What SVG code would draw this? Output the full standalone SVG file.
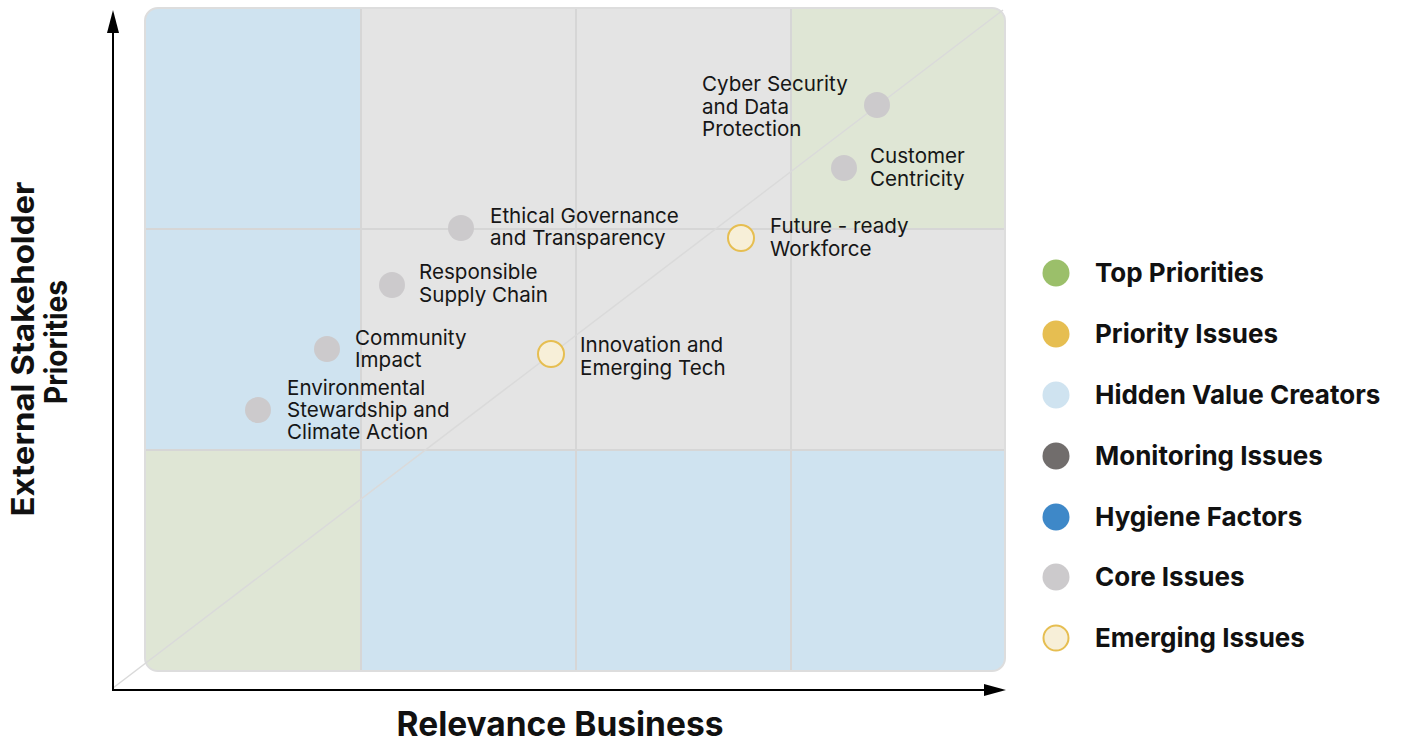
<svg xmlns="http://www.w3.org/2000/svg" width="1402" height="749" viewBox="0 0 1402 749">
<style>
.lbl{font-family:Inter,"Liberation Sans",sans-serif;font-size:20.6px;fill:#161616}
.leg{font-family:Inter,"Liberation Sans",sans-serif;font-weight:700;font-size:26px;fill:#111}
.ttl{font-family:Inter,"Liberation Sans",sans-serif;font-weight:700;font-size:33.5px;fill:#111}
.ytl{font-family:Inter,"Liberation Sans",sans-serif;font-weight:700;font-size:31px;fill:#111}
.core{fill:#CCCACC}
.emg{fill:#F7EFD8;stroke:#E6BE51;stroke-width:2}
.grid{stroke:#D6D6D6;stroke-width:2;fill:none}
.axis{stroke:#000;stroke-width:2;fill:none}
</style>
<defs>
<clipPath id="chartClip"><rect x="145" y="8" width="860" height="663" rx="13"/></clipPath>
</defs>
<g id="background">
<g clip-path="url(#chartClip)">
<rect x="145" y="8" width="860" height="663" fill="#E4E4E4"/>
<rect x="145" y="8" width="216" height="442" fill="#CFE3F0"/>
<rect x="791" y="8" width="214" height="221" fill="#DFE6D5"/>
<rect x="145" y="450" width="216" height="221" fill="#DFE6D5"/>
<rect x="361" y="450" width="644" height="221" fill="#CFE3F0"/>
<path class="grid" d="M361 8V671M576 8V671M791 8V671M145 229H1005M145 450H1005"/>
</g>
<rect x="145" y="8" width="860" height="663" rx="13" fill="none" stroke="#DDDDDD" stroke-width="2"/>
<line x1="113" y1="688" x2="1003" y2="10" stroke="#DADADA" stroke-width="1.5"/>
</g>
<g id="connectors">
<line class="axis" x1="113" y1="690" x2="113" y2="30"/>
<polygon points="113,10 107,33 119,33" fill="#000"/>
<line class="axis" x1="112" y1="690" x2="988" y2="690"/>
<polygon points="1006,690 984,684 984,696" fill="#000"/>
</g>
<g id="node-cyber"><circle class="core" cx="877" cy="105" r="13"/><text class="lbl" x="702" y="91">Cyber Security<tspan x="702" y="113.5">and Data</tspan><tspan x="702" y="136">Protection</tspan></text></g>
<g id="node-customer"><circle class="core" cx="844" cy="168" r="13"/><text class="lbl" x="870" y="163">Customer<tspan x="870" y="186">Centricity</tspan></text></g>
<g id="node-future"><circle class="emg" cx="741" cy="238" r="13"/><text class="lbl" x="770" y="233">Future - ready<tspan x="770" y="256">Workforce</tspan></text></g>
<g id="node-ethical"><circle class="core" cx="461" cy="228" r="13"/><text class="lbl" x="490" y="222.5">Ethical Governance<tspan x="490" y="245">and Transparency</tspan></text></g>
<g id="node-supply"><circle class="core" cx="392" cy="285" r="13"/><text class="lbl" x="419" y="279">Responsible<tspan x="419" y="302">Supply Chain</tspan></text></g>
<g id="node-community"><circle class="core" cx="327" cy="349" r="13"/><text class="lbl" x="355" y="344.5">Community<tspan x="355" y="366.5">Impact</tspan></text></g>
<g id="node-environment"><circle class="core" cx="258" cy="410" r="13"/><text class="lbl" x="287" y="394.5">Environmental<tspan x="287" y="416.5">Stewardship and</tspan><tspan x="287" y="439">Climate Action</tspan></text></g>
<g id="node-innovation"><circle class="emg" cx="551" cy="354" r="13"/><text class="lbl" x="580" y="352">Innovation and<tspan x="580" y="374.5">Emerging Tech</tspan></text></g>
<g id="legend">
<g id="leg-top"><circle cx="1056" cy="273" r="13.5" fill="#9BBF6A"/><text class="leg" x="1095" y="282">Top Priorities</text></g>
<g id="leg-priority"><circle cx="1056" cy="334" r="13.5" fill="#E6BE51"/><text class="leg" x="1095" y="343">Priority Issues</text></g>
<g id="leg-hidden"><circle cx="1056" cy="395" r="13.5" fill="#CFE3F0"/><text class="leg" x="1095" y="404">Hidden Value Creators</text></g>
<g id="leg-monitoring"><circle cx="1056" cy="456" r="13.5" fill="#716D6C"/><text class="leg" x="1095" y="465">Monitoring Issues</text></g>
<g id="leg-hygiene"><circle cx="1056" cy="517" r="13.5" fill="#3E88C8"/><text class="leg" x="1095" y="526">Hygiene Factors</text></g>
<g id="leg-core"><circle cx="1056" cy="577" r="13.5" fill="#CCCACC"/><text class="leg" x="1095" y="586">Core Issues</text></g>
<g id="leg-emerging"><circle cx="1056" cy="638" r="12.5" fill="#F7EFD8" stroke="#E6BE51" stroke-width="2"/><text class="leg" x="1095" y="647">Emerging Issues</text></g>
</g>
<g id="axis-titles">
<text class="ttl" x="560" y="736" text-anchor="middle">Relevance Business</text>
<text class="ytl" transform="translate(34,349) rotate(-90)" text-anchor="middle" textLength="335" lengthAdjust="spacingAndGlyphs">External Stakeholder</text>
<text class="ytl" transform="translate(67,342) rotate(-90)" text-anchor="middle" textLength="124" lengthAdjust="spacingAndGlyphs">Priorities</text>
</g>
</svg>
